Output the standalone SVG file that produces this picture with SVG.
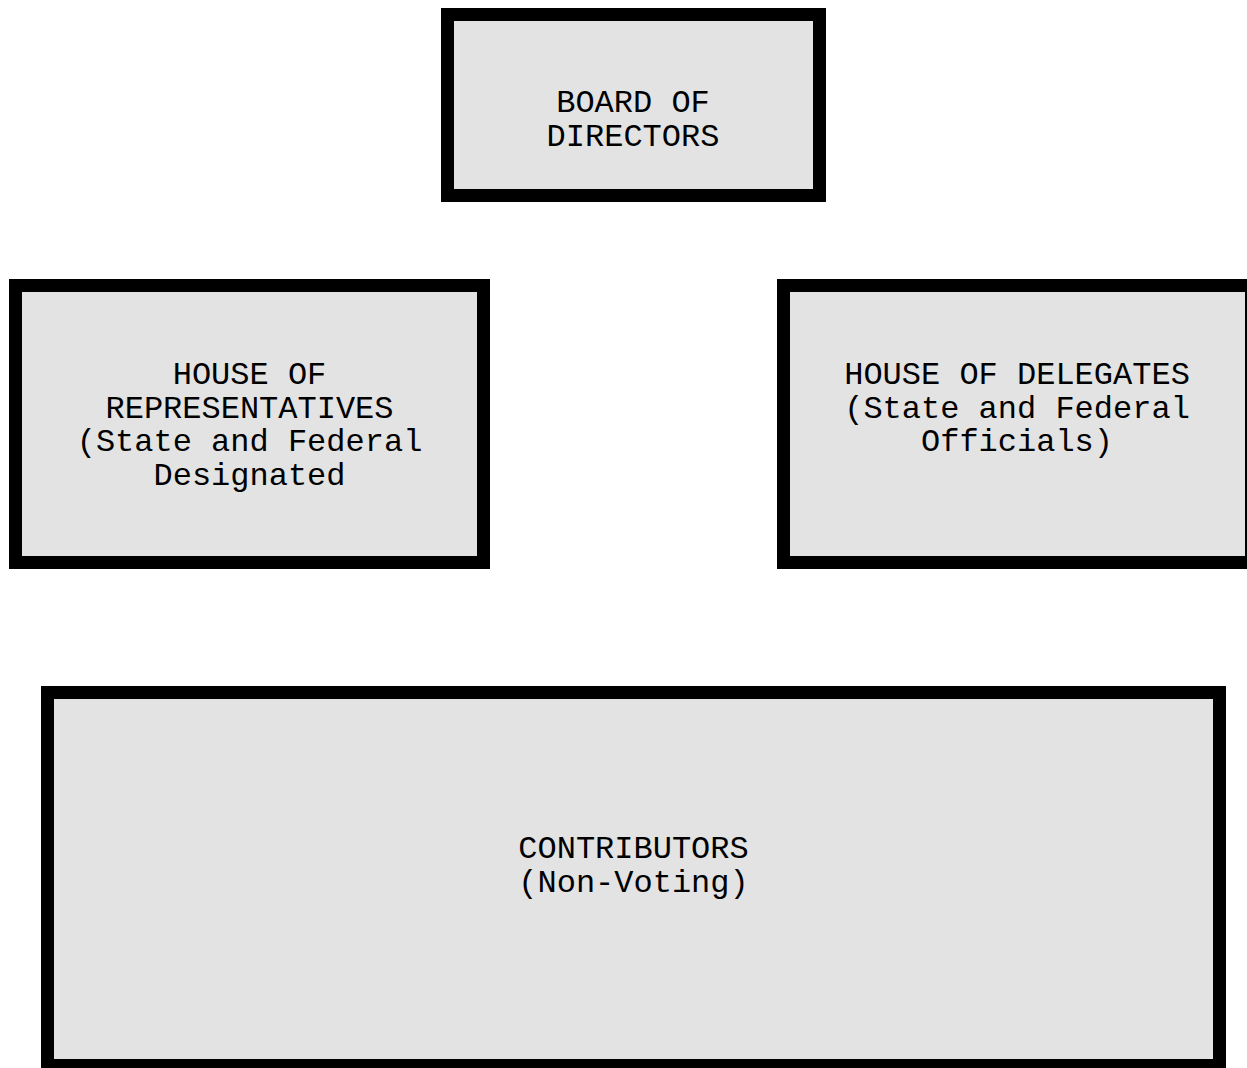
<svg xmlns="http://www.w3.org/2000/svg" width="1247" height="1068" viewBox="0 0 1247 1068">
<style>
.box{fill:#e3e3e3;stroke:#000;stroke-width:13}
.t{font-family:"Liberation Mono","Courier New",monospace;font-size:32px;fill:#000;text-anchor:middle}
</style>
<rect width="1247" height="1068" fill="#fff"/>
<g id="connectors"></g>
<g id="board">
<rect class="box" x="447.5" y="14.5" width="372" height="181"/>
<text class="t" x="633" y="112">BOARD OF</text>
<text class="t" x="633" y="146">DIRECTORS</text>
</g>
<g id="house-reps">
<rect class="box" x="15.5" y="285.5" width="468" height="277"/>
<text class="t" x="249.5" y="384">HOUSE OF</text>
<text class="t" x="249.5" y="417.5">REPRESENTATIVES</text>
<text class="t" x="249.5" y="451">(State and Federal</text>
<text class="t" x="249.5" y="484.5">Designated</text>
</g>
<g id="house-delegates">
<rect class="box" x="783.5" y="285.5" width="468" height="277"/>
<text class="t" x="1017" y="384">HOUSE OF DELEGATES</text>
<text class="t" x="1017" y="417.5">(State and Federal</text>
<text class="t" x="1017" y="451">Officials)</text>
</g>
<g id="contributors">
<rect class="box" x="47.5" y="692.5" width="1172" height="373"/>
<text class="t" x="633.5" y="858">CONTRIBUTORS</text>
<text class="t" x="633.5" y="892">(Non-Voting)</text>
</g>
</svg>
